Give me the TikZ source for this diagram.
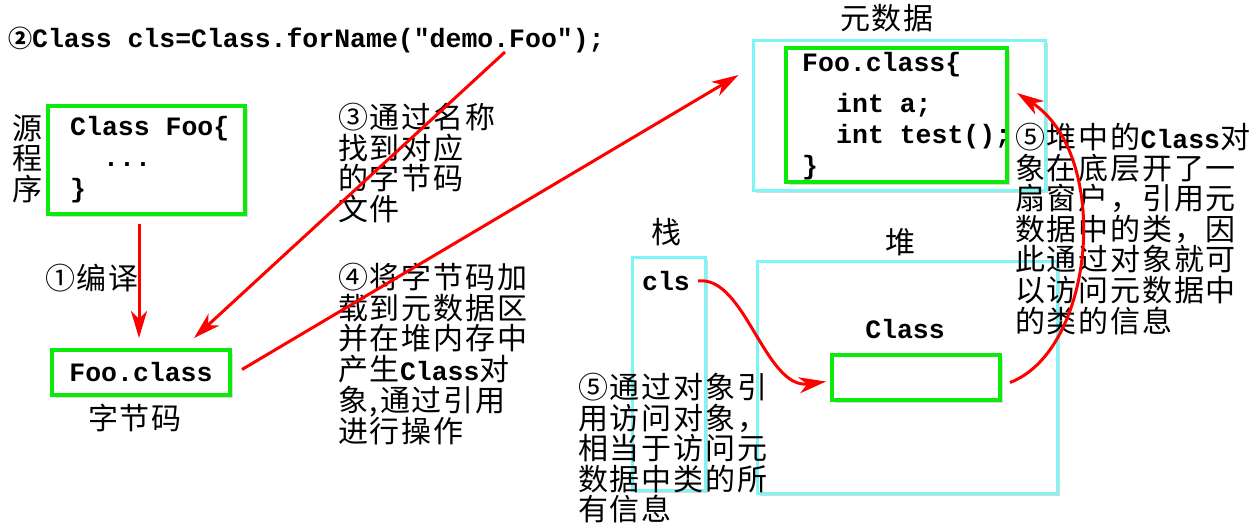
\documentclass[tikz,border=0pt]{standalone}
\usepackage{fontspec}
\setmainfont{Noto Sans CJK SC}
\newfontfamily\cjk[LetterSpace=6]{Noto Sans CJK SC}
\newfontfamily\code{Liberation Mono}
\usetikzlibrary{arrows.meta,shadows,calc}
\definecolor{boxgreen}{RGB}{10,235,10}
\definecolor{boxcyan}{RGB}{125,245,245}
\definecolor{arrowred}{RGB}{255,0,0}
\newcommand{\mc}[1]{{\code\bfseries\fontsize{26.5}{31}\selectfont #1}}
\tikzset{
  shadowed/.style={drop shadow={shadow xshift=2.5pt,shadow yshift=-2.5pt,opacity=0.3}},
  gbox/.style={draw=boxgreen, line width=4pt, fill=white, inner sep=0pt, shadowed},
  cbox/.style={draw=boxcyan, line width=3pt, fill=white, inner sep=0pt, shadowed},
  zh/.style={font=\cjk\fontsize{30}{30.6}\selectfont, inner sep=0pt, align=left},
  mono/.style={font=\code\bfseries\fontsize{26.5}{31}\selectfont, inner sep=0pt, align=left},
  redarrow/.style={draw=arrowred, line width=3pt, -{Stealth[length=27pt,width=16pt,inset=8pt]}},
}
\begin{document}
\begin{tikzpicture}[x=1pt,y=-1pt]
\useasboundingbox (0,0) rectangle (1260,530);
% boxes
\node[gbox, minimum width=197pt, minimum height=108pt] (srcbox) at (146.5,160) {};
\node[gbox, minimum width=178pt, minimum height=45pt, font=\code\bfseries\fontsize{26.5}{31}\selectfont] (fc) at (141,372.5) {Foo.class};
\node[cbox, minimum width=292pt, minimum height=150pt] (metaouter) at (899,115) {};
\node[gbox, minimum width=221pt, minimum height=134pt] (metainner) at (896.5,115) {};
\node[cbox, minimum width=73pt, minimum height=233pt] (stack) at (668.5,373.5) {};
\node[cbox, minimum width=300pt, minimum height=232pt] (heap) at (907,377) {};
\node[gbox, minimum width=168pt, minimum height=45pt] (obj) at (916,377.5) {};
% code texts
\node[mono, anchor=west] (code) at (8,40) {{\cjk\fontsize{24}{26}\selectfont ②}Class cls=Class.forName("demo.Foo");};
\node[mono, anchor=north west] (srctext) at (70,116) {Class Foo\{\\\hspace*{33pt}...\\\}};
\node[mono, anchor=north west] (metatext) at (802,52) {Foo.class\{\\[10pt]\hspace*{34pt}int a;\\\hspace*{34pt}int test();\\\}};
\node[mono] (cls) at (666,281) {cls};
\node[mono] (clsname) at (905,329) {Class};
% chinese labels
\node[zh, anchor=north west] (yuan) at (12,114) {源\\程\\序};
\node[zh, anchor=west] (bianyi) at (45,278) {①编译};
\node[zh] (zijie) at (135,418) {字节码};
\node[zh] (yuanshuju) at (887,18) {元数据};
\node[zh] (zhan) at (666,232) {栈};
\node[zh] (dui) at (900,242) {堆};
\node[zh, anchor=north west] (step3) at (338,103) {③通过名称\\找到对应\\的字节码\\文件};
\node[zh, anchor=north west] (step4) at (338,263) {④将字节码加\\载到元数据区\\并在堆内存中\\产生\mc{Class}对\\象,通过引用\\进行操作};
\node[zh, anchor=north west] (step5a) at (1015,123) {⑤堆中的\mc{Class}对\\象在底层开了一\\扇窗户，引用元\\数据中的类，因\\此通过对象就可\\以访问元数据中\\的类的信息};
\node[zh, anchor=north west] (step5b) at (578,373) {⑤通过对象引\\用访问对象，\\相当于访问元\\数据中类的所\\有信息};
% connectors
\coordinate (a3s) at (505,52);
\draw[redarrow] ($(srcbox.south)+(-7.5,8)$) -- ($(fc.north)+(-2,-10)$);
\draw[redarrow] (a3s) -- ($(fc.north east)+(-38,-10)$);
\draw[redarrow] ($(fc.east)+(10,-3)$) -- ($(metaouter.west)+(-13,-40)$);
\draw[redarrow] ($(cls.east)+(8,0)$) .. controls (745,275) and (765,390) .. ($(obj.west)+(-4,4)$);
\draw[redarrow] ($(obj.east)+(8,5)$) .. controls (1095,350) and (1112,155) .. ($(metainner.east)+(8,-22)$);
\end{tikzpicture}
\end{document}
